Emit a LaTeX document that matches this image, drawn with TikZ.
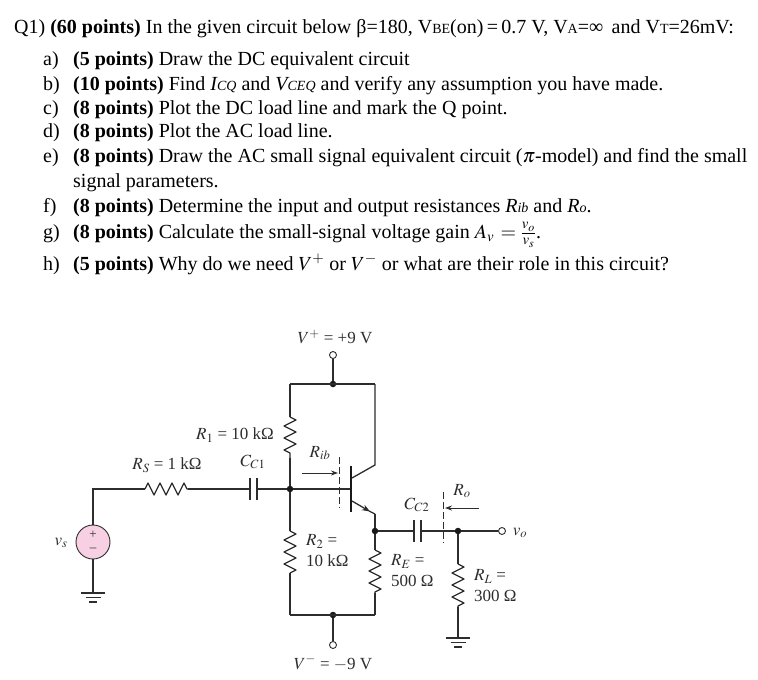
\documentclass[tikz,border=0pt]{standalone}
\usepackage{amssymb, amsmath}
\usepackage{mathptmx}
\usepackage[no-math]{fontspec}
\setmainfont{Liberation Serif}
\usepackage{tikz}
\usetikzlibrary{decorations.pathmorphing, arrows.meta}
\definecolor{wire}{RGB}{45, 45, 45}
\definecolor{srcpink}{RGB}{248, 208, 228}
\newcommand{\sm}[1]{{\fontsize{14}{14}\selectfont #1}}
\newcommand{\Ohm}{\textup{Ω}}
\tikzset{
  qtext/.style={anchor=base west, inner sep=0, font=\fontsize{20}{24}\selectfont},
  clabel/.style={inner sep=0, text=wire, font=\fontsize{17}{21}\selectfont, align=left},
  wires/.style={draw=wire, line width=1.3pt},
  resistor/.style={wires, line join=round, decorate, decoration={zigzag, segment length=12pt, amplitude=6pt}},
  plate/.style={draw=wire, line width=2.4pt},
  cut/.style={draw=wire, line width=0.7pt, dash pattern=on 7pt off 3pt},
  probe/.style={draw=wire, line width=0.9pt, -{Stealth[length=7pt,width=5pt]}},
  dot/.style={circle, fill=black!90, inner sep=0, minimum size=6.5pt},
  term/.style={circle, draw=wire, fill=white, line width=0.9pt, inner sep=0, minimum size=7pt},
  polarity/.style={inner sep=0, text=wire, font=\fontsize{13}{13}\selectfont},
  gnd/.pic={
    \draw [wire, line width=1.8pt] (-12, 0) -- (12, 0);
    \draw [wire, line width=1.8pt] (-7.5, 4.5) -- (7.5, 4.5);
    \draw [wire, line width=2pt] (-4, 9) -- (4, 9);
  }
}

\begin{document}
\begin{tikzpicture}[x=1pt, y=-1pt]
  \useasboundingbox (0, 0) rectangle (758, 680);

  % question text
  \node [qtext] (q1) at (14, 34) {Q1) \textbf{(60 points)} In the given circuit below β=180, V\sm{BE}(on)\,=\,0.7 V, V\sm{A}=∞\, and V\sm{T}=26mV:};
  \node [qtext] (la) at (43, 65) {a)};
  \node [qtext] (ta) at (73, 65) {\textbf{(5 points)} Draw the DC equivalent circuit};
  \node [qtext] (lb) at (43, 90) {b)};
  \node [qtext] (tb) at (73, 90) {\textbf{(10 points)} Find \textit{I\sm{CQ}} and \textit{V\sm{CEQ}} and verify any assumption you have made.};
  \node [qtext] (lc) at (43, 114) {c)};
  \node [qtext] (tc) at (73, 114) {\textbf{(8 points)} Plot the DC load line and mark the Q point.};
  \node [qtext] (ld) at (43, 137) {d)};
  \node [qtext] (td) at (73, 137) {\textbf{(8 points)} Plot the AC load line.};
  \node [qtext] (le) at (43, 162) {e)};
  \node [qtext] (te) at (73, 162) {\textbf{(8 points)} Draw the AC small signal equivalent circuit ($\pi$-model) and find the small};
  \node [qtext] (te2) at (73, 187) {signal parameters.};
  \node [qtext] (lf) at (43, 212) {f)};
  \node [qtext] (tf) at (73, 212) {\textbf{(8 points)} Determine the input and output resistances \textit{R\sm{ib}} and \textit{R\sm{o}}.};
  \node [qtext] (lg) at (43, 238) {g)};
  \node [qtext] (tg) at (73, 238) {\textbf{(8 points)} Calculate the small-signal voltage gain $A_v\,=\frac{v_o\rule[-3pt]{0pt}{3pt}}{\rule{0pt}{10pt}v_s}$.};
  \node [qtext] (lh) at (43, 270) {h)};
  \node [qtext] (th) at (73, 270) {\textbf{(5 points)} Why do we need $V^{+}$ or $V^{-}$ or what are their role in this circuit?};

  % supply rails
  \node [term] (vp) at (333, 355) {};
  \node [term] (vm) at (333, 645) {};
  \node [dot] (top) at (333, 384) {};
  \node [dot] (bot) at (333, 615) {};
  \coordinate (tl) at (290, 384);
  \coordinate (tr) at (375, 384);
  \coordinate (bl) at (290, 615);
  \coordinate (br) at (375, 615);
  \draw [wires] (vp) -- (top);
  \draw [wires] (vm) -- (bot);
  \draw [wires] (tl) -- (tr);
  \draw [wires] (bl) -- (br);

  % source and input
  \node [circle, draw=wire, fill=srcpink, line width=0.9pt, minimum size=34pt, inner sep=0] (src) at (93, 542) {};
  \node [polarity] (srcp) at (93, 535) {+};
  \node [polarity] (srcm) at (93, 550) {–};
  \node [dot] (base) at (290, 489) {};
  \coordinate (sc) at (93, 489);
  \coordinate (rsa) at (145, 489);
  \coordinate (rsb) at (188, 489);
  \coordinate (cal) at (250, 489);
  \coordinate (car) at (257, 489);
  \coordinate (gnda) at (93, 593);
  \draw [wires] (src) -- (sc) -- (rsa);
  \draw [resistor] (rsa) -- (rsb);
  \draw [wires] (rsb) -- (cal);
  \draw [plate] (250, 478) -- (250, 500);
  \draw [plate] (257, 478) -- (257, 500);
  \draw [wires] (car) -- (base);
  \draw [wires] (src) -- (gnda);
  \pic at (gnda) {gnd};

  % bias divider
  \coordinate (raa) at (290, 417);
  \coordinate (rab) at (290, 458);
  \coordinate (rba) at (290, 531);
  \coordinate (rbb) at (290, 573);
  \draw [wires] (tl) -- (raa);
  \draw [resistor] (raa) -- (rab);
  \draw [wires] (rab) -- (base);
  \draw [wires] (base) -- (rba);
  \draw [resistor] (rba) -- (rbb);
  \draw [wires] (rbb) -- (bl);

  % transistor
  \coordinate (bb) at (351, 489);
  \coordinate (cc) at (375, 465);
  \coordinate (ee) at (375, 514);
  \draw [wires] (base) -- (bb);
  \draw [draw=black!90, line width=2.8pt] (351, 466) -- (351, 512);
  \draw [wires] (352, 478) -- (cc) -- (tr);
  \draw [wires, -{Stealth[length=8pt,width=6pt]}] (352, 501) -- (370, 511.5);
  \draw [wires] (369, 511) -- (ee);

  % emitter and output
  \node [dot] (em) at (375, 531) {};
  \node [dot] (out) at (458, 531) {};
  \node [term] (vo) at (502, 531) {};
  \coordinate (ca) at (414, 531);
  \coordinate (cb) at (421, 531);
  \coordinate (rea) at (375, 550);
  \coordinate (reb) at (375, 593);
  \coordinate (rla) at (458, 564);
  \coordinate (rlb) at (458, 607);
  \coordinate (gndb) at (458, 638);
  \draw [wires] (ee) -- (em) -- (ca);
  \draw [plate] (414, 520) -- (414, 542);
  \draw [plate] (421, 520) -- (421, 542);
  \draw [wires] (cb) -- (out) -- (vo);
  \draw [wires] (em) -- (rea);
  \draw [resistor] (rea) -- (reb);
  \draw [wires] (reb) -- (br);
  \draw [wires] (out) -- (rla);
  \draw [resistor] (rla) -- (rlb);
  \draw [wires] (rlb) -- (gndb);
  \pic at (gndb) {gnd};

  % resistance probes
  \coordinate (riba) at (302, 473);
  \coordinate (ribb) at (338, 473);
  \coordinate (roa) at (479, 508);
  \coordinate (rob) at (445, 508);
  \draw [cut] (339, 457) -- (339, 508);
  \draw [cut] (443, 492) -- (443, 543);
  \draw [probe] (riba) -- (ribb);
  \draw [probe] (roa) -- (rob);

  % circuit labels
  \node [clabel] (lvp) at (335, 337) {$V^{+}$ = +9 V};
  \node [clabel] (lvm) at (333, 663) {$V^{-}$ = $-$9 V};
  \node [clabel] (lra) at (235, 435) {$R_1$ = 10 k\Ohm};
  \node [clabel] (lrs) at (167, 465) {$R_S$ = 1 k\Ohm};
  \node [clabel] (lca) at (253, 462) {$C_{C1}$};
  \node [clabel] (lrib) at (320, 453) {$R_{ib}$};
  \node [clabel, anchor=west] (lrb) at (306, 551) {$R_2$ =\\10 k\Ohm};
  \node [clabel, anchor=west] (lre) at (391, 571) {$R_E$ =\\500 \Ohm};
  \node [clabel, anchor=west] (lrl) at (474, 586) {$R_L$ =\\300 \Ohm};
  \node [clabel] (lcb) at (417, 505) {$C_{C2}$};
  \node [clabel] (lro) at (462, 491) {$R_o$};
  \node [clabel] (lvo) at (520, 533) {$v_o$};
  \node [clabel] (lvs) at (61, 543) {$v_s$};
\end{tikzpicture}
\end{document}
